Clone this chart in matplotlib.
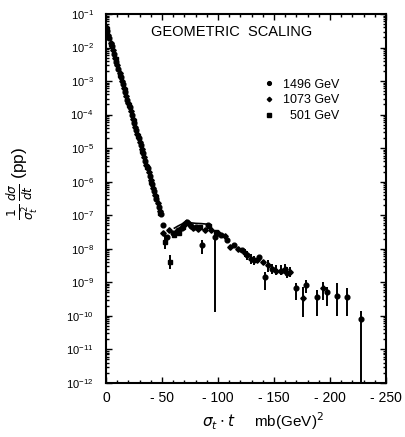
import numpy as np
import matplotlib
matplotlib.use("Agg")
from matplotlib import pyplot as plt
from matplotlib.ticker import LogLocator, MultipleLocator, NullFormatter

plt.rcParams['font.family'] = ['Liberation Sans', 'DejaVu Sans']
plt.rcParams['mathtext.fontset'] = 'dejavusans'

# sigma_t * t (mb GeV^2) and 1/sigma_t^2 dsigma/dt for the three energies
t_1496 = [-1, -3, -5, -7, -9, -11, -13, -15, -17, -19, -21, -23, -25, -27, -29,
          -31, -33, -35, -37, -39, -41, -43, -45, -47, -49,
          -50.5, -54, -60, -64, -68, -72, -76, -80, -86, -91, -97, -103, -108,
          -114, -121, -126, -132, -137, -142, -148, -156, -162, -170, -179,
          -188, -197, -206, -215, -228]
y_1496 = [3.2e-2, 1.9e-2, 1.1e-2, 6.5e-3, 3.8e-3, 2.3e-3, 1.35e-3, 7.9e-4, 4.7e-4,
          2.8e-4, 1.65e-4, 9.8e-5, 5.8e-5, 3.4e-5, 2.0e-5, 1.2e-5, 7.1e-6, 4.2e-6,
          2.5e-6, 1.45e-6, 8.7e-7, 5.1e-7, 3.0e-7, 1.8e-7, 1.05e-7,
          5.0e-8, 2.2e-8, 2.9e-8, 3.6e-8, 4.2e-8, 6.3e-8, 4.8e-8, 4.5e-8, 1.3e-8,
          5.0e-8, 2.2e-8, 2.6e-8, 1.8e-8, 1.3e-8, 9.0e-9, 6.3e-9, 4.5e-9, 5.6e-9,
          1.4e-9, 2.5e-9, 2.2e-9, 1.9e-9, 6.6e-10, 8.0e-10, 3.6e-10, 5.0e-10,
          4.0e-10, 3.6e-10, 8.0e-11]

t_1073 = [0, -2, -4, -6, -8, -10, -12, -14, -16, -18, -20, -22, -24, -26, -28,
          -30, -32, -34, -36, -38, -40, -42, -44, -46, -48,
          -51, -56, -62, -66, -70, -74, -78, -82, -88, -94, -100, -106, -111,
          -118, -124, -129, -135, -140, -145, -152, -160, -164, -176, -194]
y_1073 = [4.1e-2, 2.4e-2, 1.4e-2, 8.5e-3, 5.0e-3, 2.95e-3, 1.75e-3, 1.03e-3, 6.1e-4,
          3.6e-4, 2.15e-4, 1.27e-4, 7.5e-5, 4.4e-5, 2.6e-5, 1.55e-5, 9.2e-6, 5.4e-6,
          3.2e-6, 1.9e-6, 1.12e-6, 6.6e-7, 3.9e-7, 2.3e-7, 1.37e-7,
          2.9e-8, 3.5e-8, 3.2e-8, 3.8e-8, 5.0e-8, 5.5e-8, 4.2e-8, 4.0e-8, 3.7e-8,
          3.5e-8, 2.9e-8, 2.4e-8, 1.1e-8, 1.0e-8, 7.5e-9, 5.0e-9, 4.5e-9, 4.0e-9,
          3.2e-9, 2.2e-9, 2.4e-9, 2.0e-9, 3.5e-10, 6.6e-10]

t_501 = [-0.5, -4.5, -8.5, -12.5, -16.5, -20.5, -24.5, -28.5, -32.5, -36.5,
         -40.5, -44.5, -48.5, -52.7, -57, -61, -65, -69, -84, -92, -98]
y_501 = [3.5e-2, 1.25e-2, 4.4e-3, 1.55e-3, 5.4e-4, 1.9e-4, 6.6e-5, 2.3e-5, 8.0e-6,
         2.8e-6, 9.8e-7, 3.5e-7, 1.2e-7, 1.6e-8, 4.0e-9, 2.6e-8, 3.0e-8, 4.4e-8,
         4.4e-8, 4.6e-8, 3.2e-8]

# error bars (lower and upper ends)
err_t = [-52.7, -57, -86, -97, -124, -126, -129, -132, -142, -145, -148, -152,
         -156, -160, -162, -164, -170, -176, -179, -188, -194, -197, -206, -215, -228]
err_lo = [1.0e-8, 2.5e-9, 7.0e-9, 1.3e-10, 5.5e-9, 4.5e-9, 3.5e-9, 3.2e-9, 5.8e-10,
          2.0e-9, 1.7e-9, 1.6e-9, 1.6e-9, 1.7e-9, 1.3e-9, 1.4e-9, 2.9e-10, 9.0e-11,
          4.7e-10, 1.0e-10, 2.9e-10, 2.0e-10, 1.0e-10, 1.0e-10, 1.0e-12]
err_hi = [2.5e-8, 6.3e-9, 1.8e-8, 3.0e-8, 1.0e-8, 8.5e-9, 7.0e-9, 6.0e-9, 2.0e-9,
          4.5e-9, 3.5e-9, 3.2e-9, 3.2e-9, 3.5e-9, 2.8e-9, 2.8e-9, 9.3e-10, 7.0e-10,
          1.15e-9, 5.8e-10, 1.05e-9, 7.0e-10, 9.3e-10, 6.6e-10, 1.4e-10]

# curve through the second maximum
fit_t = [-61, -64, -68, -72, -76, -80, -85, -90, -93, -95]
fit_y = [4.1e-8, 4.7e-8, 5.5e-8, 7.0e-8, 5.9e-8, 5.7e-8, 5.6e-8, 5.4e-8, 4.4e-8, 3.8e-8]

x_ticks = [0, -50, -100, -150, -200, -250]
x_ticklabels = ['0', '- 50', '- 100', '- 150', '- 200', '- 250']

fig = plt.figure(figsize=(4.05, 4.37), dpi=100)
ax = fig.add_axes([0.262, 0.124, 0.691, 0.844])

ax.vlines(err_t, err_lo, err_hi, color='black', linewidth=1.4)
ax.plot(fit_t, fit_y, color='black', linewidth=1.2)
ax.plot(t_1496, y_1496, 'o', color='black', markersize=3.4, label='1496 GeV')
ax.plot(t_1073, y_1073, 'D', color='black', markersize=2.8, label='1073 GeV')
ax.plot(t_501, y_501, 's', color='black', markersize=3.0, label='  501 GeV')

ax.set_yscale('log')
ax.set_ylim(1e-12, 1e-1)
ax.set_xlim(0, -250)

ax.set_xticks(x_ticks)
ax.set_xticklabels(x_ticklabels, fontsize=10)
ax.xaxis.set_minor_locator(MultipleLocator(10))
ax.yaxis.set_major_locator(LogLocator(base=10, numticks=20))
ax.yaxis.set_minor_locator(LogLocator(base=10, subs=np.arange(2, 10), numticks=20))
ax.yaxis.set_minor_formatter(NullFormatter())
ax.tick_params(which='both', direction='in', top=True, right=True, width=1.0)
ax.tick_params(which='major', length=4)
ax.tick_params(which='minor', length=2)
ax.tick_params(axis='y', labelsize=8, pad=9)
ax.tick_params(axis='x', pad=6)
for s in ax.spines.values():
    s.set_linewidth(1.5)

ax.set_xlabel(r'$\sigma_t \cdot t$     mb(GeV)$^2$', fontsize=11, labelpad=10)
ax.xaxis.set_label_coords(0.56, -0.075)
ax.set_ylabel(r'$\frac{1}{\sigma_t^2}\,\frac{d\sigma}{dt}$ (pp)', fontsize=12.5, labelpad=6)
ax.yaxis.set_label_coords(-0.235, 0.54)

ax.text(0.45, 0.95, 'GEOMETRIC  SCALING', transform=ax.transAxes,
        ha='center', va='center', fontsize=10.5)
ax.legend(loc='upper left', bbox_to_anchor=(0.52, 0.855), frameon=False,
          fontsize=9, handletextpad=0.6, labelspacing=0.3, handlelength=1.0,
          markerscale=0.8)

fig.savefig('out.png', dpi=100)
